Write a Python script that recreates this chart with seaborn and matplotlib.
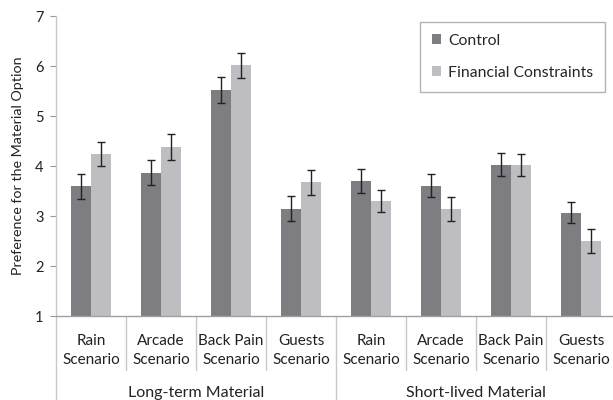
import matplotlib
matplotlib.use("Agg")
import matplotlib.pyplot as plt
import matplotlib.transforms as mtransforms
import seaborn as sns
import pandas as pd
import numpy as np

groups = ["Long-term Material", "Short-lived Material"]
scenarios = ["Rain\nScenario", "Arcade\nScenario", "Back Pain\nScenario", "Guests\nScenario"]
conditions = ["Control", "Financial Constraints"]

control_means = [3.60, 3.87, 5.53, 3.15, 3.71, 3.61, 4.03, 3.07]
control_err = [0.25, 0.25, 0.26, 0.25, 0.24, 0.23, 0.23, 0.21]
fc_means = [4.25, 4.39, 6.02, 3.68, 3.31, 3.15, 4.03, 2.51]
fc_err = [0.24, 0.26, 0.25, 0.25, 0.22, 0.24, 0.22, 0.24]

colors = ["#7e7e82", "#bebec2"]

sns.set_theme(style="white")
plt.rcParams['font.family'] = ['Lato', 'DejaVu Sans']

keys = [f"{g}|{s}" for g in groups for s in scenarios]
labels = [s for g in groups for s in scenarios]
df = pd.DataFrame({
    "key": keys * 2,
    "cond": [conditions[0]] * 8 + [conditions[1]] * 8,
    "value": control_means + fc_means,
})
means = {conditions[0]: control_means, conditions[1]: fc_means}
errs = {conditions[0]: control_err, conditions[1]: fc_err}

fig = plt.figure(figsize=(6.13, 4.0), dpi=100)
ax = fig.add_axes([56 / 613, 84 / 400, 560 / 613, 300 / 400])

sns.barplot(data=df, x="key", y="value", hue="cond", order=keys, hue_order=conditions,
            palette=colors, width=0.57, errorbar=None, ax=ax, saturation=1,
            edgecolor="none", linewidth=0)

for cont, cond in zip(ax.containers, conditions):
    xs = [p.get_x() + p.get_width() / 2 for p in cont.patches]
    ax.errorbar(xs, means[cond], yerr=errs[cond], fmt="none", ecolor="#222222",
                elinewidth=1.0, capsize=3.2, capthick=1.0)

ax.set_ylim(1, 7)
ax.set_xlim(-0.5, 7.5)
ax.set_yticks([1, 2, 3, 4, 5, 6, 7])
ax.tick_params(axis="y", which="major", left=True, length=4, width=0.8, color="#999999",
               pad=5, labelsize=10.5, labelcolor="#222222")
ax.set_xticks(range(8))
ax.set_xticklabels(labels, linespacing=1.45)
ax.tick_params(axis="x", length=0, pad=13, labelsize=11, labelcolor="#222222")

for s in ["top", "right"]:
    ax.spines[s].set_visible(False)
ax.spines["left"].set_color("#c8c8c8")
ax.spines["left"].set_linewidth(1.0)
ax.spines["bottom"].set_color("#a0a0a0")
ax.spines["bottom"].set_linewidth(1.0)

ax.set_xlabel("")
ax.set_ylabel("Preference for the Material Option", fontsize=10.3, color="#222222", labelpad=8)

trans = mtransforms.blended_transform_factory(ax.transData, ax.transAxes)
for b in np.arange(0.5, 7.5, 1.0):
    if b == 3.5:
        continue
    ax.plot([b, b], [0, -54 / 300], transform=trans, color="#c8c8c8", lw=1.0, clip_on=False)
for b in [-0.5, 3.5, 7.5]:
    ax.plot([b, b], [0, -90 / 300], transform=trans, color="#c8c8c8", lw=1.0, clip_on=False)

for i, g in enumerate(groups):
    ax.text(1.5 + 4 * i, -77 / 300, g, transform=trans, ha="center", va="center",
            fontsize=11.5, color="#222222")

leg = ax.legend(loc="upper right", frameon=True, fancybox=False,
                fontsize=11.3, handlelength=0.6, handleheight=0.6, handletextpad=0.45,
                labelspacing=1.15, borderpad=0.75, borderaxespad=0, title=None)
leg.set_bbox_to_anchor((605 / 613, 1 - 22 / 400), transform=fig.transFigure)
leg.get_frame().set_edgecolor("#a0a0a0")
leg.get_frame().set_linewidth(1.0)
leg.get_frame().set_boxstyle("square", pad=0)

fig.savefig("out.png", dpi=100)
